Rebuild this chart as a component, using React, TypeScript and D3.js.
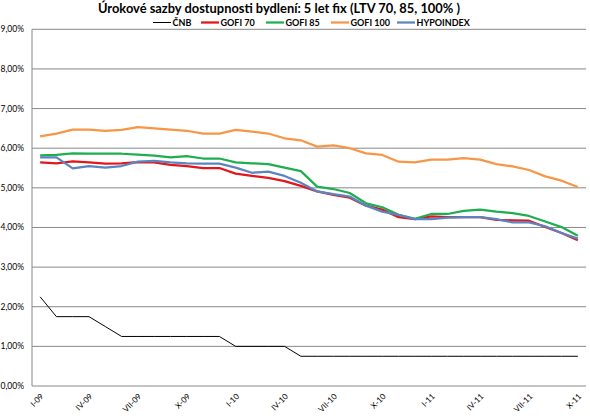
import React from "react";
import * as d3 from "d3";

const months = [
  "I-09","II-09","III-09","IV-09","V-09","VI-09","VII-09","VIII-09","IX-09","X-09","XI-09","XII-09",
  "I-10","II-10","III-10","IV-10","V-10","VI-10","VII-10","VIII-10","IX-10","X-10","XI-10","XII-10",
  "I-11","II-11","III-11","IV-11","V-11","VI-11","VII-11","VIII-11","IX-11","X-11",
];
const tickLabels = ["I-09","IV-09","VII-09","X-09","I-10","IV-10","VII-10","X-10","I-11","IV-11","VII-11","X-11"];
const yTicks = [0, 1, 2, 3, 4, 5, 6, 7, 8, 9];

const cnb = [2.25,1.75,1.75,1.75,1.5,1.25,1.25,1.25,1.25,1.25,1.25,1.25,1.0,1.0,1.0,1.0,
  0.75,0.75,0.75,0.75,0.75,0.75,0.75,0.75,0.75,0.75,0.75,0.75,0.75,0.75,0.75,0.75,0.75,0.75];
const gofi70 = [5.64,5.62,5.67,5.64,5.61,5.62,5.65,5.64,5.58,5.55,5.5,5.5,5.36,5.3,5.25,5.17,5.05,
  4.91,4.82,4.75,4.55,4.45,4.26,4.21,4.28,4.26,4.26,4.26,4.19,4.18,4.17,4.01,3.86,3.68];
const gofi85 = [5.82,5.83,5.87,5.86,5.86,5.86,5.84,5.81,5.77,5.8,5.74,5.74,5.64,5.62,5.6,5.51,5.42,
  5.03,4.97,4.87,4.61,4.51,4.32,4.22,4.34,4.34,4.42,4.45,4.4,4.36,4.29,4.15,4.01,3.79];
const gofi100 = [6.3,6.37,6.47,6.47,6.44,6.46,6.53,6.5,6.47,6.44,6.37,6.37,6.46,6.42,6.37,6.25,6.2,
  6.04,6.07,6.0,5.87,5.83,5.66,5.64,5.71,5.71,5.75,5.71,5.6,5.54,5.45,5.29,5.18,5.02];
const hypoindex = [5.77,5.77,5.49,5.55,5.51,5.55,5.66,5.68,5.64,5.62,5.61,5.61,5.51,5.38,5.41,5.3,5.13,
  4.91,4.84,4.78,4.55,4.4,4.32,4.21,4.21,4.25,4.26,4.26,4.21,4.13,4.13,4.03,3.86,3.72];

const seriesNames = ["ČNB", "GOFI 70", "GOFI 85", "GOFI 100", "HYPOINDEX"];
const seriesValues = [cnb, gofi70, gofi85, gofi100, hypoindex];
const seriesColors = ["#000000", "#E3161B", "#1FAE4F", "#F79646", "#5B84C0"];
const seriesWidths = [1, 2.25, 2.25, 2.25, 2.25];
const drawOrder = [0, 3, 1, 2, 4];
const legendX = [153, 201, 266, 331, 397];

const title = "Úrokové sazby dostupnosti bydlení: 5 let fix (LTV 70, 85, 100% )";
const FONT = "Lato, 'Open Sans', sans-serif";

export default function App() {
  const W = 590, H = 418;
  const left = 32, right = 586, top = 29.3, bottom = 386;
  const x = d3.scaleBand<string>().domain(months).range([left, right]);
  const cx = (m: string) => (x(m) as number) + x.bandwidth() / 2;
  const y = d3.scaleLinear().domain([0, 9]).range([bottom, top]);
  const fmt = (v: number) => d3.format(".2f")(v).replace(".", ",") + "%";
  const line = d3.line<number>().x((_, i) => cx(months[i])).y((d) => y(d));

  return (
    <svg width={W} height={H} style={{ position: "absolute", left: 0, top: 0, background: "#fff" }}
      fontFamily={FONT}>
      <rect width={W} height={H} fill="#fff" />
      <text x={279} y={13} textAnchor="middle" fontWeight="bold" fontSize={13}
        textLength={362} lengthAdjust="spacingAndGlyphs" fill="#000">{title}</text>
      {seriesNames.map((n, k) => (
        <g key={n}>
          <line x1={legendX[k]} x2={legendX[k] + 18} y1={22.5} y2={22.5}
            stroke={seriesColors[k]} strokeWidth={seriesWidths[k]} />
          <text x={legendX[k] + 19.5} y={25.5} fontSize={9} fontWeight="bold" fill="#000">{n}</text>
        </g>
      ))}
      {yTicks.map((t) => (
        <g key={t}>
          <line x1={left} x2={right} y1={y(t)} y2={y(t)} stroke="#888" strokeWidth={1} />
          <text x={24} y={y(t)} dy="0.35em" textAnchor="end" fontSize={8.5} fill="#000">{fmt(t)}</text>
        </g>
      ))}
      <line x1={left} x2={left} y1={top} y2={bottom} stroke="#888" strokeWidth={1} />
      {tickLabels.map((m) => (
        <text key={m} transform={`translate(${cx(m) + 4},${bottom + 11}) rotate(-45)`}
          textAnchor="end" fontSize={8} fill="#000">{m}</text>
      ))}
      {drawOrder.map((k) => (
        <path key={k} d={line(seriesValues[k]) || ""} fill="none" stroke={seriesColors[k]}
          strokeWidth={seriesWidths[k]} strokeLinejoin="round" />
      ))}
    </svg>
  );
}
